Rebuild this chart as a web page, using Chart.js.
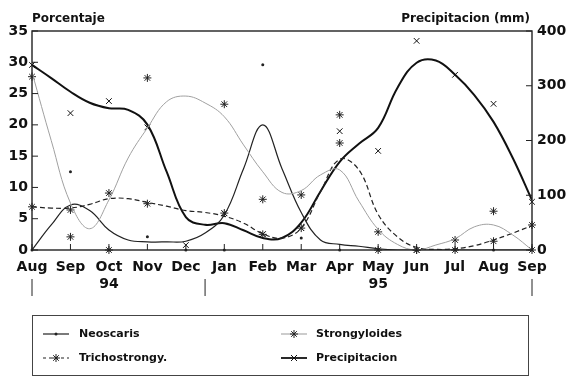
<!DOCTYPE html>
<html>
<head>
<meta charset="utf-8">
<script src="https://cdn.jsdelivr.net/npm/chart.js@4/dist/chart.umd.min.js"></script>
<style>
  html, body { margin:0; padding:0; background:#fff; }
  #wrap { position:relative; width:571px; height:385px; overflow:hidden; }
  #c { position:absolute; left:0; top:0; }
  .ttl { position:absolute; font-family:"DejaVu Sans"; font-weight:bold; font-size:12px; line-height:14px; color:#111; white-space:nowrap; }
  #legend { position:absolute; left:32px; top:315px; width:497px; height:61px; border:1px solid #444; box-sizing:border-box; }
  .li { position:absolute; font-family:"DejaVu Sans"; font-weight:bold; font-size:11px; line-height:14px; color:#111; white-space:nowrap; }
  .ls { position:absolute; }
</style>
</head>
<body>
<div id="wrap">
  <canvas id="c" width="571" height="385"></canvas>
  <div class="ttl" style="left:32px; top:11px;">Porcentaje</div>
  <div class="ttl" style="right:41px; top:11px;">Precipitacion (mm)</div>
  <div id="legend">
    <svg class="ls" style="left:9px; top:11px;" width="28" height="14"><line x1="1" y1="7" x2="27" y2="7" stroke="#222" stroke-width="1.2"/><circle cx="14" cy="7" r="1.5" fill="#222"/></svg>
    <div class="li" style="left:46px; top:11px;">Neoscaris</div>
    <svg class="ls" style="left:9px; top:35px;" width="28" height="14"><line x1="1" y1="7" x2="27" y2="7" stroke="#222" stroke-width="1.2" stroke-dasharray="3,3"/><g stroke="#222" stroke-width="1"><line x1="10" y1="7" x2="18" y2="7"/><line x1="14" y1="3" x2="14" y2="11"/><line x1="11.2" y1="4.2" x2="16.8" y2="9.8"/><line x1="11.2" y1="9.8" x2="16.8" y2="4.2"/></g></svg>
    <div class="li" style="left:46px; top:35px;">Trichostrongy.</div>
    <svg class="ls" style="left:247px; top:11px;" width="28" height="14"><line x1="1" y1="7" x2="27" y2="7" stroke="#999" stroke-width="1"/><g stroke="#222" stroke-width="1"><line x1="10" y1="7" x2="18" y2="7"/><line x1="14" y1="3" x2="14" y2="11"/><line x1="11.2" y1="4.2" x2="16.8" y2="9.8"/><line x1="11.2" y1="9.8" x2="16.8" y2="4.2"/></g></svg>
    <div class="li" style="left:283px; top:11px;">Strongyloides</div>
    <svg class="ls" style="left:247px; top:35px;" width="28" height="14"><line x1="1" y1="7" x2="27" y2="7" stroke="#111" stroke-width="1.8"/><g stroke="#111" stroke-width="1"><line x1="11" y1="4" x2="17" y2="10"/><line x1="11" y1="10" x2="17" y2="4"/></g></svg>
    <div class="li" style="left:283px; top:35px;">Precipitacion</div>
  </div>
</div>
<script>
// ---- data ----
const months = ['Aug','Sep','Oct','Nov','Dec','Jan','Feb','Mar','Apr','May','Jun','Jul','Aug','Sep'];
const years  = ['','','94','','','','','','','95','','','',''];
const leftTicks  = [0,5,10,15,20,25,30,35];
const rightTicks = [0,100,200,300,400];

// observed monthly values (markers)
const neoPts    = [0,12.5,0,2.1,0,0,29.6,1.9,0,0,0,0,0,0];
const strongPts = [27.7,2.1,0,27.5,null,23.3,8.1,8.8,21.6,0,0,1.6,6.2,0];
const trichPts  = [6.9,6.4,9.1,7.4,null,5.9,2.5,3.5,17.1,2.9,0,0,1.4,4.0];
const precipPts = [338,250,272,224,9,67,29,40,217,181,382,320,267,88];

// fitted curves, read at half-month positions
const curveX      = [0,0.5,1,1.5,2,2.5,3,3.5,4,4.5,5,5.5,6,6.5,7,7.5,8,8.5,9,9.5,10,10.5,11,11.5,12,12.5,13];
const neoCurve    = [0,4.0,7.2,6.3,3.2,1.6,1.3,1.3,1.4,2.7,5.6,13,20,13,6.0,1.6,0.9,0.6,0.2,0,0,0,0,0,0,0,0];
const strongCurve = [28.4,17.5,7.5,3.4,8.0,14.7,19.5,23.7,24.6,23.5,21.3,16.8,12.5,9.2,9.5,12.0,12.8,7.8,3.3,0.9,0,0.8,1.8,3.7,4.0,2.4,0];
const trichCurve  = [6.9,6.7,6.7,7.3,8.2,8.2,7.6,7.0,6.3,6.0,5.4,4.3,2.6,1.9,3.5,9.3,14.5,12.8,5.7,2.1,0.4,0.1,0.2,0.7,1.6,2.7,3.9];
const precipCurve = [338,314,289,269,259,256,229,143,60,46,49,36,22,22,50,107,161,194,223,296,342,346,320,283,234,168,91];

const yearBreaks = [0, 4.5, 13];

// ---- helpers ----
const toXY = (xs, ys) => ys.map((v,i)=>({x:xs[i], y:v}));
const monthIdx = months.map((m,i)=>i);

const frame = {
  id:'frame',
  afterDraw(chart){
    const {ctx, chartArea:a, scales} = chart;
    ctx.save();
    ctx.strokeStyle = '#222';
    ctx.lineWidth = 1.4;
    ctx.strokeRect(a.left, a.top, a.right-a.left, a.bottom-a.top);
    ctx.lineWidth = 1;
    ctx.beginPath();
    monthIdx.forEach(i=>{ const px = scales.x.getPixelForValue(i); ctx.moveTo(px, a.bottom); ctx.lineTo(px, a.bottom-6); });
    leftTicks.forEach(v=>{ const py = scales.y.getPixelForValue(v); ctx.moveTo(a.left, py); ctx.lineTo(a.left+6, py); });
    rightTicks.forEach(v=>{ const py = scales.y2.getPixelForValue(v); ctx.moveTo(a.right, py); ctx.lineTo(a.right-6, py); });
    yearBreaks.forEach(v=>{ const px = scales.x.getPixelForValue(v); ctx.moveTo(px, a.bottom+29); ctx.lineTo(px, a.bottom+46); });
    ctx.stroke();
    ctx.restore();
  }
};

const tickFont = {family:'DejaVu Sans', weight:'bold', size:14};

new Chart(document.getElementById('c'), {
  type:'line',
  data:{
    datasets:[
      {label:'Strongyloides fit', data:toXY(curveX, strongCurve), borderColor:'#a0a0a0', borderWidth:1, pointRadius:0, tension:0.4, yAxisID:'y'},
      {label:'Neoscaris fit', data:toXY(curveX, neoCurve), borderColor:'#222', borderWidth:1.2, pointRadius:0, tension:0.4, yAxisID:'y'},
      {label:'Trichostrongy. fit', data:toXY(curveX, trichCurve), borderColor:'#222', borderWidth:1.2, borderDash:[5,3], pointRadius:0, tension:0.4, yAxisID:'y'},
      {label:'Precipitacion fit', data:toXY(curveX, precipCurve), borderColor:'#111', borderWidth:2, pointRadius:0, tension:0.4, yAxisID:'y2'},
      {label:'Neoscaris', data:toXY(monthIdx, neoPts), showLine:false, pointStyle:'circle', pointRadius:1.5, backgroundColor:'#222', borderColor:'#222', borderWidth:0, yAxisID:'y', clip:false},
      {label:'Strongyloides', data:toXY(monthIdx, strongPts), showLine:false, pointStyle:'star', pointRadius:4, borderColor:'#222', borderWidth:1, yAxisID:'y', clip:false},
      {label:'Trichostrongy.', data:toXY(monthIdx, trichPts), showLine:false, pointStyle:'star', pointRadius:4, borderColor:'#222', borderWidth:1, yAxisID:'y', clip:false},
      {label:'Precipitacion', data:toXY(monthIdx, precipPts), showLine:false, pointStyle:'crossRot', pointRadius:4, borderColor:'#111', borderWidth:1, yAxisID:'y2', clip:false}
    ]
  },
  options:{
    responsive:false, animation:false, devicePixelRatio:1,
    layout:{padding:{top:31, left:0, right:0, bottom:0}},
    plugins:{legend:{display:false}, tooltip:{enabled:false}, title:{display:false}},
    scales:{
      x:{type:'linear', min:0, max:13, offset:false,
         afterFit(s){ s.height = 135; },
         grid:{display:false, drawTicks:false},
         border:{display:false},
         ticks:{stepSize:1, autoSkip:false, maxRotation:0, padding:9, color:'#111', font:tickFont,
                callback:(v)=> years[v] ? [months[v], years[v]] : months[v]}},
      y:{position:'left', min:0, max:35,
         afterFit(s){ s.width = 32; },
         afterBuildTicks(s){ s.ticks = leftTicks.map(v=>({value:v})); },
         grid:{display:false, drawTicks:false}, border:{display:false},
         ticks:{padding:4, color:'#111', font:tickFont}},
      y2:{position:'right', min:0, max:400,
         afterFit(s){ s.width = 39; },
         afterBuildTicks(s){ s.ticks = rightTicks.map(v=>({value:v})); },
         grid:{display:false, drawTicks:false}, border:{display:false},
         ticks:{padding:5, color:'#111', font:tickFont}}
    }
  },
  plugins:[frame]
});
</script>
</body>
</html>
